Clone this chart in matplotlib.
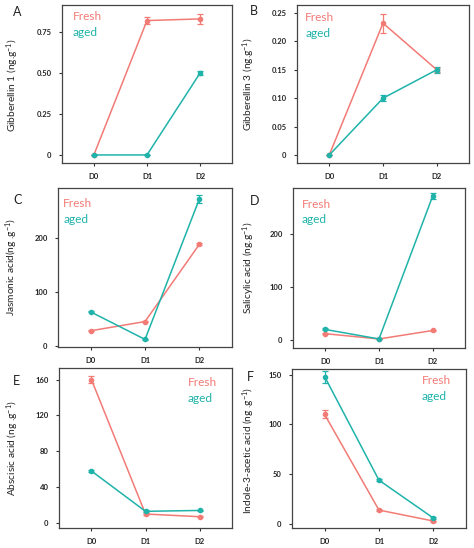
import matplotlib
matplotlib.use("Agg")
import matplotlib.pyplot as plt

plt.rcParams['font.family'] = ['Lato', 'DejaVu Sans']
plt.rcParams['mathtext.fontset'] = 'custom'
plt.rcParams['mathtext.rm'] = 'Lato'
plt.rcParams['mathtext.it'] = 'Lato:italic'

days = ["D0", "D1", "D2"]

ga1_fresh = [0.0, 0.82, 0.83]
ga1_fresh_err = [0.0, 0.02, 0.03]
ga1_aged = [0.0, 0.0, 0.50]
ga1_aged_err = [0.0, 0.0, 0.015]

ga3_fresh = [0.0, 0.232, 0.150]
ga3_fresh_err = [0.0, 0.017, 0.004]
ga3_aged = [0.0, 0.100, 0.150]
ga3_aged_err = [0.0, 0.005, 0.005]

ja_fresh = [28, 45, 188]
ja_fresh_err = [1, 1, 2]
ja_aged = [63, 12, 272]
ja_aged_err = [1, 1, 8]

sa_fresh = [12, 2, 18]
sa_fresh_err = [1, 0.5, 1]
sa_aged = [20, 2, 272]
sa_aged_err = [2, 0.5, 5]

aba_fresh = [160, 10, 7]
aba_fresh_err = [4, 1, 0.5]
aba_aged = [58, 13, 14]
aba_aged_err = [1, 1, 1]

iaa_fresh = [110, 14, 3]
iaa_fresh_err = [4, 1, 0.5]
iaa_aged = [148, 44, 6]
iaa_aged_err = [6, 1, 1]

FRESH = '#F27B76'
AGED = '#1FB3AA'

fig = plt.figure(figsize=(4.74, 5.48), dpi=100)

panels = [
    dict(letter='A', pos=[0.1308, 0.7026, 0.3586, 0.2883], f=ga1_fresh, fe=ga1_fresh_err,
         a=ga1_aged, ae=ga1_aged_err, ylim=(-0.049, 0.915), ticks=[0, 0.25, 0.5, 0.75],
         tl=['0', '0.25', '0.50', '0.75'], ylabel='Gibberellin 1 (ng.g$^{-1}$)',
         leg=(0.065, 0.924, 0.829), lx=-0.24, ly=0.49, letpos=(13, 12)),
    dict(letter='B', pos=[0.6266, 0.7026, 0.3629, 0.2883], f=ga3_fresh, fe=ga3_fresh_err,
         a=ga3_aged, ae=ga3_aged_err, ylim=(-0.014, 0.264), ticks=[0, 0.05, 0.10, 0.15, 0.20, 0.25],
         tl=['0', '0.05', '0.10', '0.15', '0.20', '0.25'], ylabel='Gibberellin 3 (ng.g$^{-1}$)',
         leg=(0.047, 0.918, 0.82), lx=-0.233, ly=0.5, letpos=(250, 11)),
    dict(letter='C', pos=[0.1224, 0.3668, 0.3671, 0.2901], f=ja_fresh, fe=ja_fresh_err,
         a=ja_aged, ae=ja_aged_err, ylim=(-2, 292), ticks=[0, 100, 200],
         tl=['0', '100', '200'], ylabel='Jasmonic acid(ng .g$^{-1}$)',
         leg=(0.03, 0.90, 0.805), lx=-0.218, ly=0.5, letpos=(13, 200)),
    dict(letter='D', pos=[0.6181, 0.3650, 0.3629, 0.2920], f=sa_fresh, fe=sa_fresh_err,
         a=sa_aged, ae=sa_aged_err, ylim=(-15, 287), ticks=[0, 100, 200],
         tl=['0', '100', '200'], ylabel='Salicylic acid (ng.g$^{-1}$)',
         leg=(0.05, 0.894, 0.80), lx=-0.21, ly=0.5, letpos=(250, 201)),
    dict(letter='E', pos=[0.1245, 0.0365, 0.3650, 0.2920], f=aba_fresh, fe=aba_fresh_err,
         a=aba_aged, ae=aba_aged_err, ylim=(-5.6, 173), ticks=[0, 40, 80, 120, 160],
         tl=['0', '40', '80', '120', '160'], ylabel='Abscisic acid (ng .g$^{-1}$)',
         leg=(0.745, 0.91, 0.81), lx=-0.22, ly=0.5, letpos=(13, 381)),
    dict(letter='F', pos=[0.6160, 0.0365, 0.3670, 0.2901], f=iaa_fresh, fe=iaa_fresh_err,
         a=iaa_aged, ae=iaa_aged_err, ylim=(-4, 155.6), ticks=[0, 50, 100, 150],
         tl=['0', '50', '100', '150'], ylabel='Indole-3-acetic acid (ng .g$^{-1}$)',
         leg=(0.747, 0.93, 0.83), lx=-0.20, ly=0.485, letpos=(247, 377)),
]

for p in panels:
    ax = fig.add_axes(p['pos'])
    x = list(range(len(days)))
    for vals, errs, col in ((p['f'], p['fe'], FRESH), (p['a'], p['ae'], AGED)):
        ax.errorbar(x, vals, yerr=errs, color=col, lw=1.1, marker='o', ms=3,
                    capsize=2.5, elinewidth=0.9, capthick=0.9)
    ax.set_xlim(-0.6, 2.6)
    ax.set_ylim(*p['ylim'])
    ax.set_xticks(x)
    ax.set_xticklabels(days)
    ax.set_yticks(p['ticks'])
    ax.set_yticklabels(p['tl'])
    ax.tick_params(axis='both', length=2.5, width=0.8, color='#333333',
                   labelsize=5.5, pad=5)
    for lab in ax.get_xticklabels() + ax.get_yticklabels():
        lab.set_fontweight('bold')
        lab.set_color('#222222')
    for s in ax.spines.values():
        s.set_color('#444444')
        s.set_linewidth(0.9)
    ax.set_ylabel(p['ylabel'], fontsize=7.3, color='#222222')
    ax.yaxis.set_label_coords(p['lx'], p['ly'])
    lx, fy, ay = p['leg']
    ax.text(lx, fy, 'Fresh', transform=ax.transAxes, color=FRESH, fontsize=8.6,
            va='center', ha='left')
    ax.text(lx, ay, 'aged', transform=ax.transAxes, color=AGED, fontsize=8.6,
            va='center', ha='left')
    fig.text(p['letpos'][0] / 474, 1 - p['letpos'][1] / 548, p['letter'],
             fontsize=9, va='center', ha='left', color='#222222')

fig.savefig('out.png', dpi=100)
